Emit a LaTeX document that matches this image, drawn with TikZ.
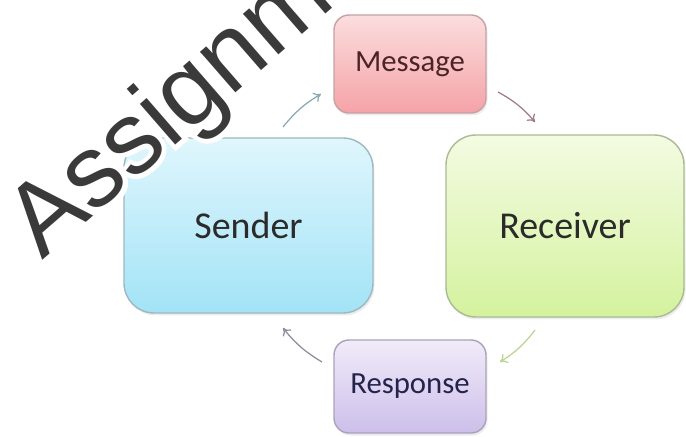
\documentclass[tikz,border=0pt]{standalone}
\usepackage{fontspec}
\setmainfont{Carlito}
\newfontfamily\stampfont{Liberation Sans}
\newfontfamily\haloefont[FakeBold=9]{Liberation Sans}
\usetikzlibrary{arrows.meta,shadows}
\definecolor{sndtop}{HTML}{E0F6FD}
\definecolor{sndbot}{HTML}{A2E3F6}
\definecolor{sndline}{HTML}{9DB8C0}
\definecolor{rcvtop}{HTML}{F4FBE2}
\definecolor{rcvbot}{HTML}{D4F29E}
\definecolor{rcvline}{HTML}{A9BA95}
\definecolor{msgtop}{HTML}{FBDDDE}
\definecolor{msgbot}{HTML}{F5A3A7}
\definecolor{msgline}{HTML}{C4A2A4}
\definecolor{rsptop}{HTML}{F1EBF9}
\definecolor{rspbot}{HTML}{CDBFEA}
\definecolor{rspline}{HTML}{ABA2BA}
\definecolor{inktext}{HTML}{2B2B2B}
\definecolor{arrblue}{HTML}{86A9B0}
\definecolor{arrred}{HTML}{A07A80}
\definecolor{arrgreen}{HTML}{B9D48E}
\definecolor{arrgray}{HTML}{8E8A98}
\definecolor{stampgray}{HTML}{3A3A3A}

\begin{document}
\begin{tikzpicture}[line width=0.8pt,
  box/.style={draw, rounded corners=0.6cm, inner sep=0pt, text=inktext,
    drop shadow={opacity=0.15, shadow xshift=0.03cm, shadow yshift=-0.05cm}},
  bigbox/.style={box, font=\fontsize{21.6}{26}\selectfont},
  smallbox/.style={box, rounded corners=0.3cm, minimum width=3.04cm,
    font=\fontsize{17.5}{21}\selectfont},
  flow/.style={-{To[length=4pt,width=6pt]}, line width=0.7pt},
  stamp/.style={anchor=base west, rotate=41, inner sep=0pt}]
  \useasboundingbox (0,0) rectangle (13.72,8.72);
  % the four boxes
  \node[bigbox, draw=sndline, top color=sndtop, bottom color=sndbot,
    minimum width=4.98cm, minimum height=3.5cm] (sender) at (4.97,4.21) {Sender};
  \node[bigbox, draw=rcvline, top color=rcvtop, bottom color=rcvbot,
    minimum width=4.76cm, minimum height=3.64cm] (receiver) at (11.3,4.2) {Receiver};
  \node[smallbox, draw=msgline, top color=msgtop, bottom color=msgbot,
    text=inktext!85!red, minimum height=1.96cm] (message) at (8.2,7.44) {Message};
  \node[smallbox, draw=rspline, top color=rsptop, bottom color=rspbot,
    text=inktext!85!blue, minimum height=1.86cm] (response) at (8.2,0.99) {Response};
  % short arrows between them
  \coordinate (sm1) at (5.66,6.18);
  \coordinate (sm2) at (6.42,6.84);
  \coordinate (mr1) at (9.96,6.88);
  \coordinate (mr2) at (10.7,6.28);
  \coordinate (rr1) at (10.7,2.12);
  \coordinate (rr2) at (10.0,1.48);
  \coordinate (rs1) at (6.44,1.48);
  \coordinate (rs2) at (5.66,2.16);
  \draw[flow, arrblue] (sm1) to[bend left=10] (sm2);
  \draw[flow, arrred] (mr1) to[bend left=10] (mr2);
  \draw[flow, arrgreen] (rr1) to[bend left=10] (rr2);
  \draw[flow, arrgray] (rs1) to[bend left=10] (rs2);
  % watermark
  \begin{scope}
    \clip (0,0) rectangle (13.72,8.72);
    \coordinate (wm) at (0.84,3.5);
    \node[stamp, text=white, font=\haloefont\fontsize{58}{66}\selectfont] at (wm) {Assignment};
    \node[stamp, text=stampgray, font=\stampfont\fontsize{58}{66}\selectfont] (stamp) at (wm) {Assignment};
  \end{scope}
\end{tikzpicture}
\end{document}
